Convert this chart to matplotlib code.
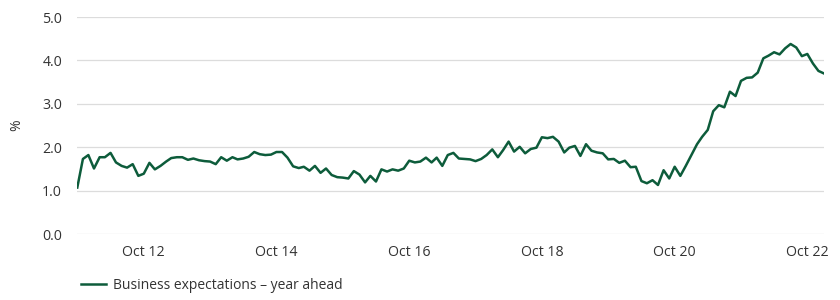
import matplotlib
matplotlib.use("Agg")
import matplotlib.pyplot as plt
import matplotlib.dates as mdates
import pandas as pd

# monthly, Oct 2011 - Jan 2023
start_month = "2011-10-01"
expectations = [
    1.07, 1.73, 1.82, 1.51, 1.77, 1.77, 1.87, 1.65, 1.57, 1.53,
    1.61, 1.34, 1.39, 1.64, 1.49, 1.57, 1.67, 1.75, 1.77, 1.77,
    1.71, 1.74, 1.70, 1.68, 1.67, 1.61, 1.77, 1.69, 1.77, 1.72,
    1.74, 1.78, 1.89, 1.84, 1.82, 1.83, 1.89, 1.89, 1.76, 1.56,
    1.52, 1.55, 1.46, 1.57, 1.41, 1.51, 1.36, 1.31, 1.30, 1.28,
    1.45, 1.37, 1.19, 1.34, 1.21, 1.49, 1.44, 1.49, 1.46, 1.51,
    1.69, 1.65, 1.67, 1.76, 1.65, 1.76, 1.57, 1.82, 1.87, 1.74,
    1.73, 1.72, 1.68, 1.73, 1.82, 1.95, 1.77, 1.93, 2.13, 1.90,
    2.01, 1.86, 1.96, 1.99, 2.23, 2.21, 2.24, 2.13, 1.88, 1.99,
    2.03, 1.80, 2.07, 1.92, 1.88, 1.86, 1.72, 1.73, 1.64, 1.69,
    1.54, 1.55, 1.22, 1.17, 1.24, 1.13, 1.47, 1.28, 1.55, 1.34,
    1.57, 1.82, 2.07, 2.24, 2.40, 2.83, 2.97, 2.92, 3.28, 3.18,
    3.53, 3.60, 3.61, 3.72, 4.05, 4.11, 4.19, 4.14, 4.28, 4.38,
    4.30, 4.10, 4.15, 3.93, 3.76, 3.70,
]
series_label = "Business expectations – year ahead"
y_ticks = [0.0, 1.0, 2.0, 3.0, 4.0, 5.0]
tick_years = [2012, 2014, 2016, 2018, 2020, 2022]

dates = pd.date_range(start_month, periods=len(expectations), freq="MS")

plt.rcParams["font.family"] = ["Open Sans", "DejaVu Sans"]
text_col = "#333333"

fig = plt.figure(figsize=(8.4, 3.0), dpi=100)
ax = fig.add_axes([0.092, 0.22, 0.889, 0.723])

ax.plot(dates, expectations, color="#0d5c3b", lw=1.8, label=series_label)

ax.set_xlim(dates[0], dates[-1])
ax.set_ylim(0, 5)
ax.set_yticks(y_ticks)
ax.set_yticklabels([f"{v:.1f}" for v in y_ticks])
ax.set_xticks([pd.Timestamp(f"{y}-10-01") for y in tick_years])
ax.xaxis.set_major_formatter(mdates.DateFormatter("Oct %y"))

ax.grid(axis="y", color="#dcdcdc", lw=0.9)
ax.set_axisbelow(True)
for s in ax.spines.values():
    s.set_visible(False)
ax.tick_params(length=0, labelsize=10.2, colors=text_col)
ax.tick_params(axis="y", pad=11)
ax.tick_params(axis="x", pad=8)

ax.set_ylabel("%", color=text_col, fontsize=10, labelpad=13)

ax.legend(loc="upper left", bbox_to_anchor=(-0.012, -0.145), frameon=False,
          fontsize=10, handlelength=1.8, handletextpad=0.5, labelcolor=text_col)

fig.savefig("out.png", dpi=100)
